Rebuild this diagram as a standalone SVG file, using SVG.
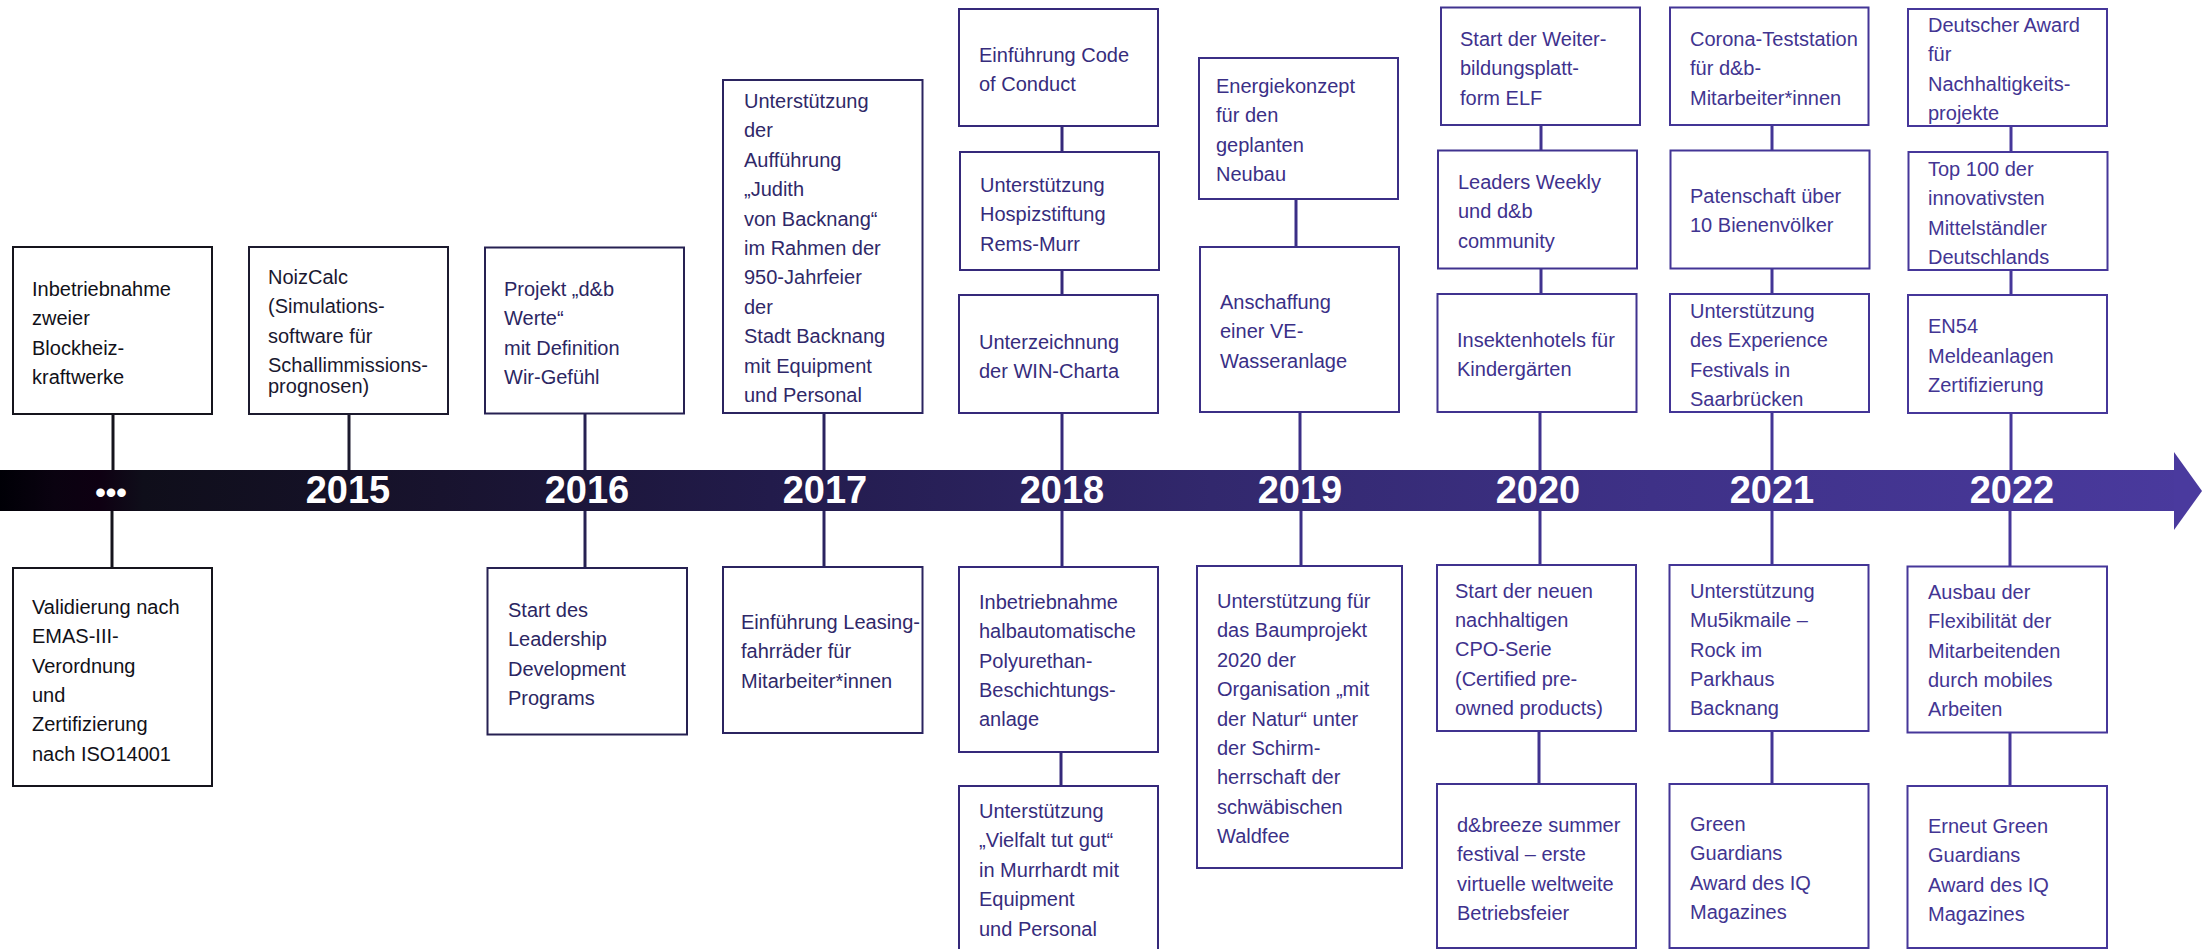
<svg xmlns="http://www.w3.org/2000/svg" width="2202" height="949" viewBox="0 0 2202 949">
<defs>
<linearGradient id="barGrad" gradientUnits="userSpaceOnUse" x1="0" y1="0" x2="2202" y2="0">
<stop offset="0" stop-color="#000006"/>
<stop offset="0.025" stop-color="#0a0210"/>
<stop offset="0.045" stop-color="#0e0012"/>
<stop offset="0.065" stop-color="#0f0e1a"/>
<stop offset="0.2" stop-color="#18132e"/>
<stop offset="0.35" stop-color="#221b4b"/>
<stop offset="0.55" stop-color="#32286d"/>
<stop offset="0.75" stop-color="#3e3187"/>
<stop offset="1" stop-color="#4a3a9e"/>
</linearGradient>
</defs>
<style>
text{font-family:"Liberation Sans",Arial,sans-serif;font-size:20px}
.yr{font-weight:bold;font-size:38px;fill:#ffffff;text-anchor:middle}
rect.b{fill:#ffffff;stroke-width:2}
line{stroke-width:3}
.k0 rect{stroke:#15141c}.k0 text{fill:#111118}
.k1 rect{stroke:#1c1a2e}.k1 text{fill:#1a1830}
.k2 rect{stroke:#262152}.k2 text{fill:#2b2662}
.k3 rect{stroke:#2b2460}.k3 text{fill:#2f2868}
.k4 rect{stroke:#35297a}.k4 text{fill:#362c7c}
.k5 rect{stroke:#3b2f86}.k5 text{fill:#3a2f86}
.k6 rect{stroke:#40338f}.k6 text{fill:#3e318d}
.k7 rect{stroke:#433596}.k7 text{fill:#413490}
.k8 rect{stroke:#46379a}.k8 text{fill:#433593}
.l0{stroke:#15141c}.l1{stroke:#1c1a2e}.l2{stroke:#262152}.l3{stroke:#2b2460}.l4{stroke:#35297a}.l5{stroke:#3b2f86}.l6{stroke:#40338f}.l7{stroke:#433596}.l8{stroke:#46379a}
</style>

<g id="connectors">
<line class="l0" x1="113" y1="414" x2="113" y2="472"/>
<line class="l0" x1="112" y1="509" x2="112" y2="568"/>
<line class="l1" x1="349" y1="414" x2="349" y2="472"/>
<line class="l2" x1="585" y1="414" x2="585" y2="472"/>
<line class="l2" x1="585" y1="509" x2="585" y2="568"/>
<line class="l3" x1="824" y1="413" x2="824" y2="472"/>
<line class="l3" x1="824" y1="509" x2="824" y2="567"/>
<line class="l4" x1="1062" y1="126" x2="1062" y2="152"/>
<line class="l4" x1="1062" y1="270" x2="1062" y2="295"/>
<line class="l4" x1="1062" y1="413" x2="1062" y2="472"/>
<line class="l4" x1="1062" y1="509" x2="1062" y2="567"/>
<line class="l4" x1="1061" y1="752" x2="1061" y2="786"/>
<line class="l5" x1="1296" y1="199" x2="1296" y2="247"/>
<line class="l5" x1="1300" y1="412" x2="1300" y2="472"/>
<line class="l5" x1="1301" y1="509" x2="1301" y2="566"/>
<line class="l6" x1="1541" y1="125" x2="1541" y2="150"/>
<line class="l6" x1="1541" y1="268" x2="1541" y2="294"/>
<line class="l6" x1="1540" y1="412" x2="1540" y2="472"/>
<line class="l6" x1="1540" y1="509" x2="1540" y2="565"/>
<line class="l6" x1="1539" y1="731" x2="1539" y2="784"/>
<line class="l7" x1="1772" y1="125" x2="1772" y2="151"/>
<line class="l7" x1="1772" y1="268" x2="1772" y2="294"/>
<line class="l7" x1="1772" y1="412" x2="1772" y2="472"/>
<line class="l7" x1="1772" y1="509" x2="1772" y2="565"/>
<line class="l7" x1="1772" y1="731" x2="1772" y2="784"/>
<line class="l8" x1="2011" y1="126" x2="2011" y2="152"/>
<line class="l8" x1="2011" y1="270" x2="2011" y2="295"/>
<line class="l8" x1="2011" y1="413" x2="2011" y2="472"/>
<line class="l8" x1="2010" y1="509" x2="2010" y2="566"/>
<line class="l8" x1="2010" y1="733" x2="2010" y2="786"/>
</g>

<g id="timeline">
<rect x="0" y="470" width="2176" height="41" fill="url(#barGrad)"/>
<polygon points="2174,452 2202,491 2174,530" fill="#4a3a9e"/>
<text class="yr" x="111" y="503" style="font-size:30px">•••</text>
<text class="yr" x="348" y="503">2015</text>
<text class="yr" x="587" y="503">2016</text>
<text class="yr" x="825" y="503">2017</text>
<text class="yr" x="1062" y="503">2018</text>
<text class="yr" x="1300" y="503">2019</text>
<text class="yr" x="1538" y="503">2020</text>
<text class="yr" x="1772" y="503">2021</text>
<text class="yr" x="2012" y="503">2022</text>
</g>

<g id="n-blockheiz" class="k0">
<rect class="b" x="13" y="247" width="199" height="167"/>
<text x="32" y="296">Inbetriebnahme<tspan x="32" dy="29.3">zweier</tspan><tspan x="32" dy="29.3">Blockheiz-</tspan><tspan x="32" dy="29.3">kraftwerke</tspan></text>
</g>
<g id="n-emas" class="k0">
<rect class="b" x="13" y="568" width="199" height="218"/>
<text x="32" y="614">Validierung nach<tspan x="32" dy="29.3">EMAS-III-</tspan><tspan x="32" dy="29.3">Verordnung</tspan><tspan x="32" dy="29.3">und</tspan><tspan x="32" dy="29.3">Zertifizierung</tspan><tspan x="32" dy="29.3">nach ISO14001</tspan></text>
</g>

<g id="n-noizcalc" class="k1">
<rect class="b" x="249" y="247" width="199" height="167"/>
<text x="268" y="284">NoizCalc<tspan x="268" dy="29.3">(Simulations-</tspan><tspan x="268" dy="29.3">software für</tspan><tspan x="268" dy="29.3">Schallimmissions-</tspan><tspan x="268" dy="21.5">prognosen)</tspan></text>
</g>

<g id="n-werte" class="k2">
<rect class="b" x="485" y="247.5" width="199" height="166"/>
<text x="504" y="296">Projekt „d&amp;b<tspan x="504" dy="29.3">Werte“</tspan><tspan x="504" dy="29.3">mit Definition</tspan><tspan x="504" dy="29.3">Wir-Gefühl</tspan></text>
</g>
<g id="n-leadership" class="k2">
<rect class="b" x="487.5" y="568" width="199.5" height="166.5"/>
<text x="508" y="617">Start des<tspan x="508" dy="29.3">Leadership</tspan><tspan x="508" dy="29.3">Development</tspan><tspan x="508" dy="29.3">Programs</tspan></text>
</g>

<g id="n-judith" class="k3">
<rect class="b" x="723" y="80" width="199.5" height="333"/>
<text x="744" y="108">Unterstützung<tspan x="744" dy="29.4">der</tspan><tspan x="744" dy="29.4">Aufführung</tspan><tspan x="744" dy="29.4">„Judith</tspan><tspan x="744" dy="29.4">von Backnang“</tspan><tspan x="744" dy="29.4">im Rahmen der</tspan><tspan x="744" dy="29.4">950-Jahrfeier</tspan><tspan x="744" dy="29.4">der</tspan><tspan x="744" dy="29.4">Stadt Backnang</tspan><tspan x="744" dy="29.4">mit Equipment</tspan><tspan x="744" dy="29.4">und Personal</tspan></text>
</g>
<g id="n-leasing" class="k3">
<rect class="b" x="723" y="567" width="199.5" height="166"/>
<text x="741" y="629">Einführung Leasing-<tspan x="741" dy="29.3">fahrräder für</tspan><tspan x="741" dy="29.3">Mitarbeiter*innen</tspan></text>
</g>

<g id="n-code" class="k4">
<rect class="b" x="959" y="9" width="199" height="117"/>
<text x="979" y="62">Einführung Code<tspan x="979" dy="29">of Conduct</tspan></text>
</g>
<g id="n-hospiz" class="k4">
<rect class="b" x="960" y="152" width="199" height="118"/>
<text x="980" y="192">Unterstützung<tspan x="980" dy="29.3">Hospizstiftung</tspan><tspan x="980" dy="29.3">Rems-Murr</tspan></text>
</g>
<g id="n-win" class="k4">
<rect class="b" x="959" y="295" width="199" height="118"/>
<text x="979" y="349">Unterzeichnung<tspan x="979" dy="29.3">der WIN-Charta</tspan></text>
</g>
<g id="n-polyurethan" class="k4">
<rect class="b" x="959" y="567" width="199" height="185"/>
<text x="979" y="609">Inbetriebnahme<tspan x="979" dy="29.3">halbautomatische</tspan><tspan x="979" dy="29.3">Polyurethan-</tspan><tspan x="979" dy="29.3">Beschichtungs-</tspan><tspan x="979" dy="29.3">anlage</tspan></text>
</g>
<g id="n-vielfalt" class="k4">
<rect class="b" x="959" y="786" width="199" height="180"/>
<text x="979" y="818">Unterstützung<tspan x="979" dy="29.4">„Vielfalt tut gut“</tspan><tspan x="979" dy="29.4">in Murrhardt mit</tspan><tspan x="979" dy="29.4">Equipment</tspan><tspan x="979" dy="29.4">und Personal</tspan></text>
</g>

<g id="n-energie" class="k5">
<rect class="b" x="1199" y="58" width="199" height="141"/>
<text x="1216" y="93">Energiekonzept<tspan x="1216" dy="29.3">für den</tspan><tspan x="1216" dy="29.3">geplanten</tspan><tspan x="1216" dy="29.3">Neubau</tspan></text>
</g>
<g id="n-wasser" class="k5">
<rect class="b" x="1200" y="247" width="199" height="165"/>
<text x="1220" y="309">Anschaffung<tspan x="1220" dy="29.3">einer VE-</tspan><tspan x="1220" dy="29.3">Wasseranlage</tspan></text>
</g>
<g id="n-baum" class="k5">
<rect class="b" x="1197" y="566" width="205" height="302"/>
<text x="1217" y="608">Unterstützung für<tspan x="1217" dy="29.4">das Baumprojekt</tspan><tspan x="1217" dy="29.4">2020 der</tspan><tspan x="1217" dy="29.4">Organisation „mit</tspan><tspan x="1217" dy="29.4">der Natur“ unter</tspan><tspan x="1217" dy="29.4">der Schirm-</tspan><tspan x="1217" dy="29.4">herrschaft der</tspan><tspan x="1217" dy="29.4">schwäbischen</tspan><tspan x="1217" dy="29.4">Waldfee</tspan></text>
</g>

<g id="n-elf" class="k6">
<rect class="b" x="1441" y="7.5" width="199" height="117.5"/>
<text x="1460" y="46">Start der Weiter-<tspan x="1460" dy="29.3">bildungsplatt-</tspan><tspan x="1460" dy="29.3">form ELF</tspan></text>
</g>
<g id="n-leaders" class="k6">
<rect class="b" x="1438" y="150.5" width="199" height="118"/>
<text x="1458" y="189">Leaders Weekly<tspan x="1458" dy="29.3">und d&amp;b</tspan><tspan x="1458" dy="29.3">community</tspan></text>
</g>
<g id="n-insekten" class="k6">
<rect class="b" x="1437.5" y="294" width="199" height="118"/>
<text x="1457" y="347">Insektenhotels für<tspan x="1457" dy="29.4">Kindergärten</tspan></text>
</g>
<g id="n-cpo" class="k6">
<rect class="b" x="1437" y="565" width="199" height="166"/>
<text x="1455" y="598">Start der neuen<tspan x="1455" dy="29.2">nachhaltigen</tspan><tspan x="1455" dy="29.2">CPO-Serie</tspan><tspan x="1455" dy="29.2">(Certified pre-</tspan><tspan x="1455" dy="29.2">owned products)</tspan></text>
</g>
<g id="n-breeze" class="k6">
<rect class="b" x="1437" y="784" width="199" height="164"/>
<text x="1457" y="832">d&amp;breeze summer<tspan x="1457" dy="29.3">festival – erste</tspan><tspan x="1457" dy="29.3">virtuelle weltweite</tspan><tspan x="1457" dy="29.3">Betriebsfeier</tspan></text>
</g>

<g id="n-corona" class="k7">
<rect class="b" x="1670" y="7.5" width="198.5" height="117.5"/>
<text x="1690" y="46">Corona-Teststation<tspan x="1690" dy="29.3">für d&amp;b-</tspan><tspan x="1690" dy="29.3">Mitarbeiter*innen</tspan></text>
</g>
<g id="n-bienen" class="k7">
<rect class="b" x="1670.5" y="150.5" width="199" height="118"/>
<text x="1690" y="203">Patenschaft über<tspan x="1690" dy="29.4">10 Bienenvölker</tspan></text>
</g>
<g id="n-experience" class="k7">
<rect class="b" x="1670" y="294" width="199" height="118"/>
<text x="1690" y="318">Unterstützung<tspan x="1690" dy="29.4">des Experience</tspan><tspan x="1690" dy="29.4">Festivals in</tspan><tspan x="1690" dy="29.4">Saarbrücken</tspan></text>
</g>
<g id="n-musikmaile" class="k7">
<rect class="b" x="1669.5" y="565" width="199" height="166"/>
<text x="1690" y="598">Unterstützung<tspan x="1690" dy="29.3">Mu5ikmaile –</tspan><tspan x="1690" dy="29.3">Rock im</tspan><tspan x="1690" dy="29.3">Parkhaus</tspan><tspan x="1690" dy="29.3">Backnang</tspan></text>
</g>
<g id="n-guardians" class="k7">
<rect class="b" x="1669.5" y="784" width="199" height="164"/>
<text x="1690" y="831">Green<tspan x="1690" dy="29.3">Guardians</tspan><tspan x="1690" dy="29.3">Award des IQ</tspan><tspan x="1690" dy="29.3">Magazines</tspan></text>
</g>

<g id="n-award" class="k8">
<rect class="b" x="1908" y="9" width="199" height="117"/>
<text x="1928" y="32">Deutscher Award<tspan x="1928" dy="29.3">für</tspan><tspan x="1928" dy="29.3">Nachhaltigkeits-</tspan><tspan x="1928" dy="29.3">projekte</tspan></text>
</g>
<g id="n-top100" class="k8">
<rect class="b" x="1908.5" y="152" width="199" height="118"/>
<text x="1928" y="176">Top 100 der<tspan x="1928" dy="29.3">innovativsten</tspan><tspan x="1928" dy="29.3">Mittelständler</tspan><tspan x="1928" dy="29.3">Deutschlands</tspan></text>
</g>
<g id="n-en54" class="k8">
<rect class="b" x="1908" y="295" width="199" height="118"/>
<text x="1928" y="333">EN54<tspan x="1928" dy="29.7">Meldeanlagen</tspan><tspan x="1928" dy="29.7">Zertifizierung</tspan></text>
</g>
<g id="n-mobil" class="k8">
<rect class="b" x="1907.5" y="566.5" width="199.5" height="166"/>
<text x="1928" y="599">Ausbau der<tspan x="1928" dy="29.3">Flexibilität der</tspan><tspan x="1928" dy="29.3">Mitarbeitenden</tspan><tspan x="1928" dy="29.3">durch mobiles</tspan><tspan x="1928" dy="29.3">Arbeiten</tspan></text>
</g>
<g id="n-erneut" class="k8">
<rect class="b" x="1907.5" y="786" width="199.5" height="162"/>
<text x="1928" y="833">Erneut Green<tspan x="1928" dy="29.3">Guardians</tspan><tspan x="1928" dy="29.3">Award des IQ</tspan><tspan x="1928" dy="29.3">Magazines</tspan></text>
</g>
</svg>
